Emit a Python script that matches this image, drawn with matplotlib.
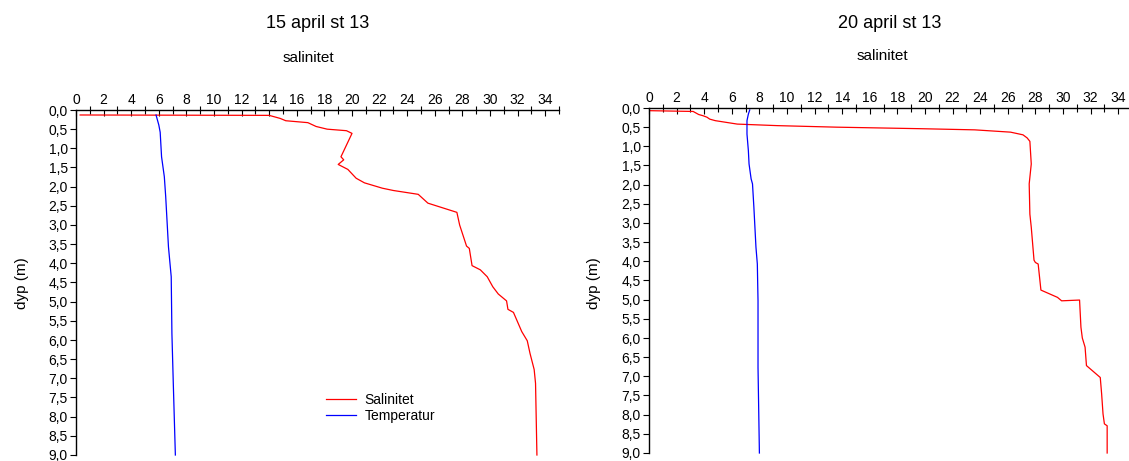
import matplotlib
matplotlib.use("Agg")
import matplotlib.pyplot as plt
from matplotlib.ticker import MultipleLocator, FuncFormatter

plt.rcParams['font.family'] = ['Liberation Sans', 'DejaVu Sans']

# 15 april st 13
sal_15_x = [0.3, 14.0, 14.8, 15.2, 16.8, 17.4, 18.2, 19.6, 20.0, 19.2, 19.4, 19.0, 19.7, 20.3,
            20.9, 22.2, 23.0, 24.8, 25.5, 27.6, 27.8, 28.3, 28.5, 28.7, 29.3, 29.8, 30.2, 30.6,
            31.2, 31.3, 31.7, 32.3, 32.7, 32.9, 33.2, 33.3, 33.4]
sal_15_d = [0.13, 0.14, 0.22, 0.28, 0.33, 0.43, 0.50, 0.54, 0.61, 1.22, 1.30, 1.42, 1.55, 1.78,
            1.90, 2.04, 2.10, 2.20, 2.43, 2.67, 3.0, 3.55, 3.61, 4.06, 4.17, 4.35, 4.61, 4.80,
            4.98, 5.20, 5.28, 5.78, 6.02, 6.35, 6.77, 7.13, 9.0]
temp_15_x = [5.8, 6.0, 6.1, 6.2, 6.4, 6.5, 6.7, 6.9, 6.95, 7.05, 7.2]
temp_15_d = [0.13, 0.39, 0.58, 1.22, 1.74, 2.26, 3.57, 4.35, 5.83, 7.13, 9.0]

# 20 april st 13
sal_20_x = [0.07, 3.2, 3.6, 3.9, 4.2, 4.4, 4.8, 6.4, 9.3, 13.6, 19.7, 23.6, 26.2, 27.1, 27.4,
            27.6, 27.7, 27.55, 27.6, 27.7, 27.9, 28.0, 28.2, 28.4, 29.6, 29.9, 31.2, 31.3, 31.4,
            31.6, 31.7, 32.7, 32.8, 32.9, 33.0, 33.2, 33.2]
sal_20_d = [0.07, 0.09, 0.17, 0.20, 0.24, 0.29, 0.33, 0.42, 0.46, 0.50, 0.54, 0.57, 0.63, 0.70,
            0.78, 0.87, 1.46, 1.98, 2.77, 3.11, 3.97, 4.03, 4.07, 4.75, 4.94, 5.03, 5.01, 5.72,
            6.0, 6.24, 6.72, 7.03, 7.46, 7.98, 8.24, 8.29, 9.0]
temp_20_x = [7.3, 7.2, 7.1, 7.1, 7.2, 7.25, 7.4, 7.5, 7.6, 7.75, 7.85, 7.9, 7.9, 8.0]
temp_20_d = [0.05, 0.16, 0.33, 0.68, 1.11, 1.46, 1.85, 1.98, 2.59, 3.63, 4.07, 5.03, 6.77, 9.0]

titles = ["15 april st 13", "20 april st 13"]
subtitle = "salinitet"
ylabel = "dyp (m)"
series_names = ["Salinitet", "Temperatur"]

W, H = 1129, 461
fig = plt.figure(figsize=(W / 100, H / 100), dpi=100)

comma = FuncFormatter(lambda v, p: f"{v:.1f}".replace(".", ","))


def make_ax(left, top, bottom):
    width = 35 * 13.8
    ax = fig.add_axes([left / W, 1 - bottom / H, width / W, (bottom - top) / H])
    ax.set_xlim(0, 35)
    ax.set_ylim(9, 0)
    ax.xaxis.tick_top()
    ax.xaxis.set_major_locator(MultipleLocator(2))
    ax.xaxis.set_minor_locator(MultipleLocator(1))
    ax.yaxis.set_major_locator(MultipleLocator(0.5))
    ax.yaxis.set_major_formatter(comma)
    ax.tick_params(axis='x', which='major', direction='in', length=4, width=0.8, labelsize=10, pad=2)
    ax.tick_params(axis='x', which='minor', direction='inout', length=6, width=0.8)
    ax.tick_params(axis='y', direction='out', length=4, width=0.8, labelsize=10, pad=2)
    ax.spines['right'].set_visible(False)
    ax.spines['bottom'].set_visible(False)
    ax.spines['top'].set_linewidth(1.0)
    ax.spines['left'].set_linewidth(1.0)
    for s in ax.spines.values():
        s.set_clip_on(False)
    return ax


ax1 = make_ax(76, 110, 455)
ax1.plot(sal_15_x, sal_15_d, color='red', lw=0.9, label=series_names[0], clip_on=False)
ax1.plot(temp_15_x, temp_15_d, color='blue', lw=0.9, label=series_names[1], clip_on=False)
ax1.legend(loc='upper left', bbox_to_anchor=(313 / W, 1 - 380 / H), bbox_transform=fig.transFigure,
           frameon=False, fontsize=10, handlelength=2.2, handletextpad=0.6, labelspacing=0.2)

ax2 = make_ax(649, 108, 453)
ax2.plot(sal_20_x, sal_20_d, color='red', lw=0.9, clip_on=False)
ax2.plot(temp_20_x, temp_20_d, color='blue', lw=0.9, clip_on=False)

fig.text(318 / W, 1 - 23 / H, titles[0], ha='center', va='center', fontsize=13)
fig.text(308 / W, 1 - 58 / H, subtitle, ha='center', va='center', fontsize=11)
fig.text(890 / W, 1 - 23 / H, titles[1], ha='center', va='center', fontsize=13)
fig.text(882 / W, 1 - 56 / H, subtitle, ha='center', va='center', fontsize=11)
fig.text(22 / W, 1 - 283 / H, ylabel, ha='center', va='center', rotation=90, fontsize=11)
fig.text(594 / W, 1 - 283 / H, ylabel, ha='center', va='center', rotation=90, fontsize=11)

fig.savefig("out.png", dpi=100)
